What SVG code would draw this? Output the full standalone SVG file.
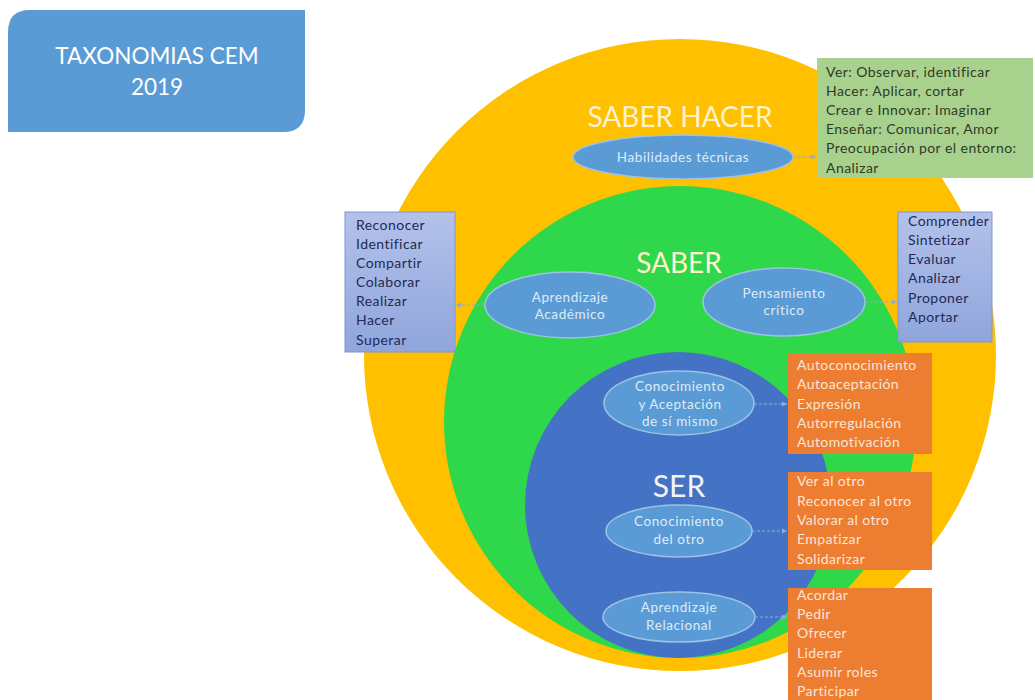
<svg xmlns="http://www.w3.org/2000/svg" width="1035" height="700" viewBox="0 0 1035 700">
<defs>
<style>
.t{font-family:Lato,"Open Sans","Liberation Sans",sans-serif}
.big{font-size:28px;fill:#FFF2CC}
.ell{fill:#5B9BD5;stroke:#9DC3E6;stroke-width:1.5}
.et{font-size:13.5px;letter-spacing:0.6px;fill:#DEEBF7;text-anchor:middle}
.gt{font-size:14px;letter-spacing:0.45px;fill:#2F3B24}
.pt{font-size:14px;letter-spacing:0.45px;fill:#1F2A55}
.ot{font-size:14px;letter-spacing:0.4px;fill:#FBE5D6}
.con{stroke:#8FAADC;stroke-width:1;fill:none;stroke-dasharray:3 2}
</style>
<marker id="ah" markerWidth="6" markerHeight="6" refX="5" refY="3" orient="auto" markerUnits="userSpaceOnUse">
<path d="M0,0.5 L5,3 L0,5.5 z" fill="#8FAADC"/>
</marker>
<linearGradient id="pg" x1="0" y1="0" x2="0" y2="1">
<stop offset="0" stop-color="#B4C2EA"/>
<stop offset="1" stop-color="#8FA5DC"/>
</linearGradient>
</defs>
<rect width="1035" height="700" fill="#FFFFFF"/>

<g id="title">
<path d="M30,10 H305 V110 Q305,132 283,132 H8 V32 Q8,10 30,10 Z" fill="#5B9BD5"/>
<text class="t" x="157" y="64" font-size="22.5" fill="#FFFFFF" text-anchor="middle">TAXONOMIAS CEM</text>
<text class="t" x="157" y="95" font-size="22.5" fill="#FFFFFF" text-anchor="middle">2019</text>
</g>

<g id="saber-hacer">
<ellipse cx="680" cy="355" rx="316" ry="316" fill="#FFC000"/>
<text class="t big" x="680" y="127" text-anchor="middle">SABER HACER</text>
</g>

<g id="saber">
<circle cx="680" cy="422" r="236" fill="#2FD84A"/>
<text class="t big" x="679" y="273" text-anchor="middle">SABER</text>
</g>

<g id="ser">
<circle cx="678" cy="505" r="153" fill="#4472C4"/>
<text class="t" x="679" y="497" font-size="30" fill="#F2F2F2" text-anchor="middle">SER</text>
</g>

<g id="habilidades">
<ellipse class="ell" cx="683" cy="157" rx="110" ry="22"/>
<text class="t et" x="683" y="162">Habilidades técnicas</text>
</g>

<g id="box-habilidades">
<rect x="817" y="58" width="216" height="120" fill="#A9D18E"/>
<text class="t gt" x="826" y="77">Ver: Observar, identificar</text>
<text class="t gt" x="826" y="96">Hacer: Aplicar, cortar</text>
<text class="t gt" x="826" y="115">Crear e Innovar: Imaginar</text>
<text class="t gt" x="826" y="134">Enseñar: Comunicar, Amor</text>
<text class="t gt" x="826" y="153">Preocupación por el entorno:</text>
<text class="t gt" x="826" y="173">Analizar</text>
</g>

<g id="aprendizaje-academico">
<ellipse class="ell" cx="570" cy="305" rx="85" ry="33"/>
<text class="t et" x="570" y="302">Aprendizaje</text>
<text class="t et" x="570" y="319">Académico</text>
</g>

<g id="pensamiento">
<ellipse class="ell" cx="784" cy="302" rx="81" ry="34"/>
<text class="t et" x="784" y="298">Pensamiento</text>
<text class="t et" x="784" y="315">crítico</text>
</g>

<g id="box-academico">
<rect x="345" y="212" width="110" height="140" fill="url(#pg)" stroke="#7F96D0" stroke-width="1"/>
<text class="t pt" x="356" y="230">Reconocer</text>
<text class="t pt" x="356" y="249">Identificar</text>
<text class="t pt" x="356" y="268">Compartir</text>
<text class="t pt" x="356" y="287">Colaborar</text>
<text class="t pt" x="356" y="306">Realizar</text>
<text class="t pt" x="356" y="325">Hacer</text>
<text class="t pt" x="356" y="345">Superar</text>
</g>

<g id="box-critico">
<rect x="898" y="212" width="94" height="130" fill="url(#pg)" stroke="#7F96D0" stroke-width="1"/>
<text class="t pt" x="908" y="226">Comprender</text>
<text class="t pt" x="908" y="245">Sintetizar</text>
<text class="t pt" x="908" y="264">Evaluar</text>
<text class="t pt" x="908" y="283">Analizar</text>
<text class="t pt" x="908" y="303">Proponer</text>
<text class="t pt" x="908" y="322">Aportar</text>
</g>

<g id="conocimiento-mismo">
<ellipse class="ell" cx="679" cy="403" rx="75" ry="32"/>
<text class="t et" x="680" y="391">Conocimiento</text>
<text class="t et" x="680" y="409">y Aceptación</text>
<text class="t et" x="680" y="426">de sí mismo</text>
</g>

<g id="conocimiento-otro">
<ellipse class="ell" cx="679" cy="531" rx="73" ry="26"/>
<text class="t et" x="679" y="526">Conocimiento</text>
<text class="t et" x="679" y="544">del otro</text>
</g>

<g id="aprendizaje-relacional">
<ellipse class="ell" cx="679" cy="617" rx="76" ry="25"/>
<text class="t et" x="679" y="612">Aprendizaje</text>
<text class="t et" x="679" y="630">Relacional</text>
</g>

<g id="box-mismo">
<rect x="788" y="353" width="144" height="101" fill="#ED7D31"/>
<text class="t ot" x="797" y="370">Autoconocimiento</text>
<text class="t ot" x="797" y="389">Autoaceptación</text>
<text class="t ot" x="797" y="409">Expresión</text>
<text class="t ot" x="797" y="428">Autorregulación</text>
<text class="t ot" x="797" y="447">Automotivación</text>
</g>

<g id="box-otro">
<rect x="788" y="472" width="144" height="98" fill="#ED7D31"/>
<text class="t ot" x="797" y="486">Ver al otro</text>
<text class="t ot" x="797" y="506">Reconocer al otro</text>
<text class="t ot" x="797" y="525">Valorar al otro</text>
<text class="t ot" x="797" y="544">Empatizar</text>
<text class="t ot" x="797" y="564">Solidarizar</text>
</g>

<g id="box-relacional">
<rect x="788" y="588" width="144" height="112" fill="#ED7D31"/>
<text class="t ot" x="797" y="600">Acordar</text>
<text class="t ot" x="797" y="619">Pedir</text>
<text class="t ot" x="797" y="638">Ofrecer</text>
<text class="t ot" x="797" y="658">Liderar</text>
<text class="t ot" x="797" y="677">Asumir roles</text>
<text class="t ot" x="797" y="696">Participar</text>
</g>

<g id="connectors">
<line class="con" x1="793" y1="157" x2="816" y2="157" marker-end="url(#ah)"/>
<line class="con" x1="485" y1="305" x2="456" y2="305" marker-end="url(#ah)"/>
<line class="con" x1="865" y1="302" x2="897" y2="302" marker-end="url(#ah)"/>
<line class="con" x1="754" y1="404" x2="787" y2="404" marker-end="url(#ah)"/>
<line class="con" x1="752" y1="531" x2="787" y2="531" marker-end="url(#ah)"/>
<line class="con" x1="755" y1="617" x2="787" y2="617" marker-end="url(#ah)"/>
</g>
</svg>
